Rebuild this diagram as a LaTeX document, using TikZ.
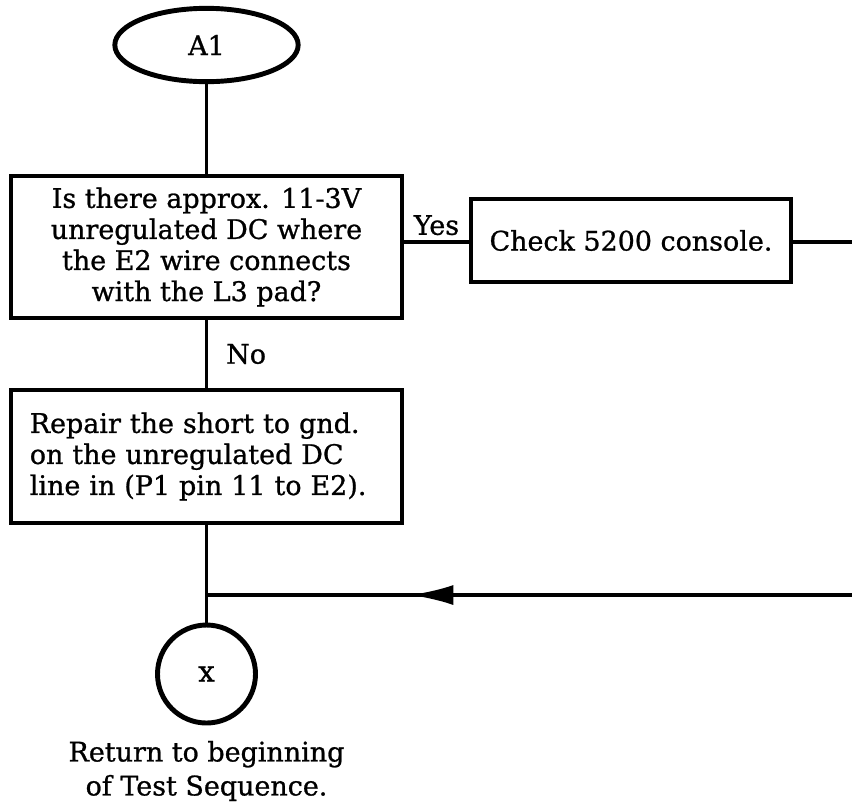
\documentclass[tikz,border=0pt]{standalone}
\usepackage{fontspec}
\setmainfont{DejaVu Serif}
\newfontfamily\flowfont{DejaVu Serif}[FakeBold=0.9]
\usetikzlibrary{positioning,shapes.geometric,arrows.meta}

\begin{document}
\begin{tikzpicture}[x=0.03cm, y=-0.03cm,
    flowbox/.style={draw, rectangle, line width=4.2pt, inner sep=0pt,
                    minimum width=11.73cm, font=\flowfont\fontsize{23}{26.5}\selectfont},
    terminal/.style={draw, ellipse, line width=4.2pt, inner sep=0pt,
                     minimum width=5.5cm, minimum height=2.2cm, font=\flowfont\fontsize{23}{26}\selectfont},
    offpage/.style={draw, circle, line width=4.2pt, inner sep=0pt,
                    minimum size=2.94cm, font=\flowfont\fontsize{25}{26}\selectfont},
    flowline/.style={line width=3pt},
    flowlabel/.style={font=\flowfont\fontsize{23}{26}\selectfont}
]

\useasboundingbox (0,0) rectangle (852,804);

\def\mainx{206.5}

% start terminal
\node[terminal] (a1) at (\mainx,45) {A1};

% decision
\node[flowbox, minimum height=4.26cm, align=center] (question) at (\mainx,247)
    {Is there approx. 11-3V\\unregulated DC where\\the E2 wire connects\\with the L3 pad?};

\node[flowbox, minimum width=9.6cm, minimum height=2.49cm] (check) at (631,240.5)
    {Check 5200 console.};

\node[flowbox, minimum height=3.99cm, text width=10.6cm, align=left] (repair) at (\mainx,456.5)
    {Repair the short to gnd.\\on the unregulated DC\\line in (P1 pin 11 to E2).};

% return connector
\node[offpage] (retx) at (\mainx,674) {x};
\node[flowlabel, align=center, font=\flowfont\fontsize{23}{29}\selectfont] (rettext) at (\mainx,771)
    {Return to beginning\\of Test Sequence.};

\coordinate (checkout) at (852,242);
\coordinate (backin) at (852,595);
\coordinate (join) at (\mainx,595);
\coordinate (tip) at (410,595);

% connectors
\draw[flowline] (a1.south) -- (question.north);
\draw[flowline] (question.east |- checkout) -- node[flowlabel, above=1pt] (yes) {Yes} (check.west |- checkout);
\draw[flowline] (check.east |- checkout) -- (checkout);
\draw[flowline] (question.south) -- node[flowlabel, right=12pt, pos=0.5] (no) {No} (repair.north);
\draw[flowline] (repair.south) -- (retx.north);
\draw[flowline] (backin) -- (join);
\draw[flowline, -{Latex[length=1.3cm, width=0.6cm]}] (backin) -- (tip);

\end{tikzpicture}
\end{document}
